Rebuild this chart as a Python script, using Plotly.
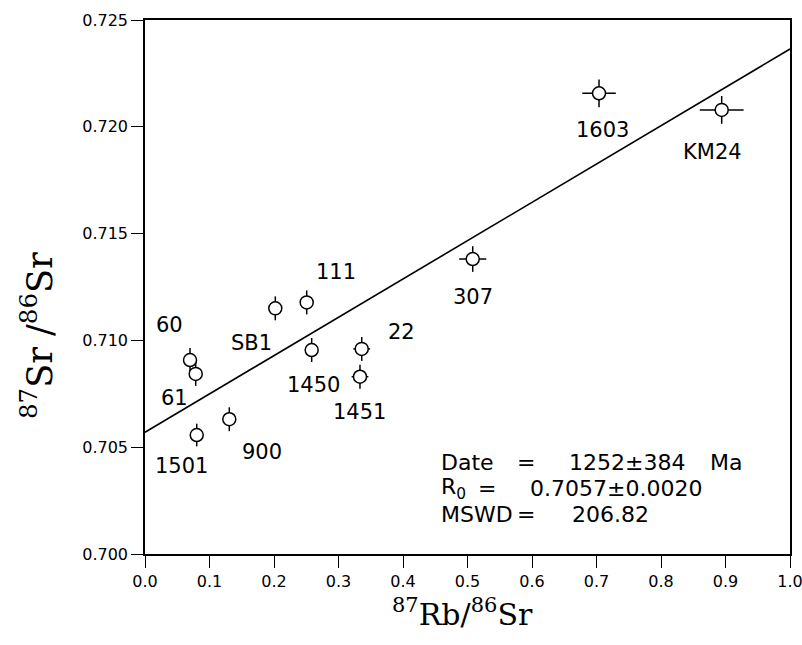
import plotly.graph_objects as go

# ---- data ----
samples = ["60", "61", "1501", "900", "SB1", "111", "1450", "22", "1451", "307", "1603", "KM24"]
rb_sr = [0.0698, 0.0786, 0.0802, 0.1307, 0.2020, 0.2507, 0.2584, 0.3360, 0.3333, 0.5081, 0.7039, 0.8941]
sr_sr = [0.70908, 0.70843, 0.70557, 0.70631, 0.71150, 0.71178, 0.70955, 0.70960, 0.70830, 0.71381, 0.72157, 0.72079]
err_x = [0.005, 0.005, 0.005, 0.005, 0.005, 0.005, 0.005, 0.013, 0.013, 0.021, 0.026, 0.034]
err_y = [0.00056, 0.00056, 0.00053, 0.00056, 0.00056, 0.00056, 0.00056, 0.00056, 0.00056, 0.0006, 0.00065, 0.00065]

intercept = 0.7057
slope = 0.01794
line_x = [0.0, 1.0]

x_ticks = [0.0, 0.1, 0.2, 0.3, 0.4, 0.5, 0.6, 0.7, 0.8, 0.9, 1.0]
y_ticks = [0.700, 0.705, 0.710, 0.715, 0.720, 0.725]

# result box text, one list per line (pieces)
info_lines = [["Date", "=", "1252±384", "Ma"],
              ["R<sub>0</sub>", "=", "0.7057±0.0020"],
              ["MSWD", "=", "206.82"]]

# ---- layout / style (pixels) ----
PLOT_L, PLOT_R, PLOT_T, PLOT_B = 145, 790, 20, 554
INFO_LEFT = 439
# centres of the pieces after the first (first piece is left-anchored at INFO_LEFT)
info_piece_cx = [[526, 627, 726], [487, 616], [526, 610]]
info_line_cy = [462, 488, 514]

# label offsets in pixels (dx, dy) relative to each point
label_offsets = [(-21, -35), (-21, 24), (-15, 31), (33, 33), (-24, 35), (29, -30),
                 (2, 35), (40, -17), (0, 35), (0, 38), (3, 37), (-9, 42)]

LABEL_FONT = dict(family="DejaVu Sans", size=21, color="black")
INFO_FONT = dict(family="DejaVu Sans", size=22, color="black")


def px(xp):
    return (xp - PLOT_L) / (PLOT_R - PLOT_L)


def py(yp):
    return (PLOT_B - yp) / (PLOT_B - PLOT_T)


fig = go.Figure()

# isochron line
fig.add_trace(go.Scatter(
    x=line_x, y=[intercept + slope * v for v in line_x],
    mode="lines", line=dict(color="black", width=1.6),
    hoverinfo="skip", showlegend=False))

# data points with error bars
fig.add_trace(go.Scatter(
    x=rb_sr, y=sr_sr, mode="markers",
    marker=dict(symbol="circle", size=13, color="white",
                line=dict(color="black", width=1.5)),
    error_x=dict(type="data", array=err_x, width=0, thickness=1.5, color="black"),
    error_y=dict(type="data", array=err_y, width=0, thickness=1.5, color="black"),
    showlegend=False))

for name, xv, yv, (dx, dy) in zip(samples, rb_sr, sr_sr, label_offsets):
    fig.add_annotation(x=xv, y=yv, text=name, showarrow=False,
                       xshift=dx, yshift=-dy, font=LABEL_FONT,
                       xanchor="center", yanchor="middle")

for pieces, cxs, cy in zip(info_lines, info_piece_cx, info_line_cy):
    fig.add_annotation(xref="paper", yref="paper", x=px(INFO_LEFT), y=py(cy),
                       text=pieces[0], showarrow=False, xanchor="left", yanchor="middle",
                       font=INFO_FONT)
    for t, cx in zip(pieces[1:], cxs):
        fig.add_annotation(xref="paper", yref="paper", x=px(cx), y=py(cy),
                           text=t, showarrow=False, xanchor="center", yanchor="middle",
                           font=INFO_FONT)

# axis titles
fig.add_annotation(xref="paper", yref="paper", x=px(462), y=py(612),
                   text="<sup>87</sup>Rb/<sup>86</sup>Sr", showarrow=False,
                   xanchor="center", yanchor="middle",
                   font=dict(family="DejaVu Serif", size=30, color="black"))
fig.add_annotation(xref="paper", yref="paper", x=px(37), y=py(336),
                   text="<sup>87</sup>Sr\u00a0/<sup>86</sup>Sr", showarrow=False, textangle=-90,
                   xanchor="center", yanchor="middle",
                   font=dict(family="DejaVu Serif", size=35, color="black"))

axis_common = dict(showgrid=False, zeroline=False, showline=True, linecolor="black",
                   linewidth=1.5, mirror=True, ticks="outside", ticklen=12,
                   tickwidth=1.3, tickcolor="black", automargin=False,
                   ticklabeloverflow="allow",
                   tickfont=dict(family="DejaVu Sans", size=16, color="black"))

fig.update_xaxes(range=[0, 1], tickvals=x_ticks,
                 ticktext=[f"{v:.1f}" for v in x_ticks], **axis_common)
fig.update_yaxes(range=[0.700, 0.725], tickvals=y_ticks,
                 ticktext=[f"{v:.3f}" for v in y_ticks], **axis_common)

fig.update_layout(width=802, height=645, plot_bgcolor="white", paper_bgcolor="white",
                  margin=dict(l=PLOT_L, r=802 - PLOT_R, t=PLOT_T, b=645 - PLOT_B,
                              autoexpand=False),
                  showlegend=False)

# remove the browser's default 8px body margin so the figure fills the window exactly
fig.write_html("out.html", config={"displayModeBar": False},
               post_script="document.body.style.margin='0px';document.body.style.overflow='hidden';")
